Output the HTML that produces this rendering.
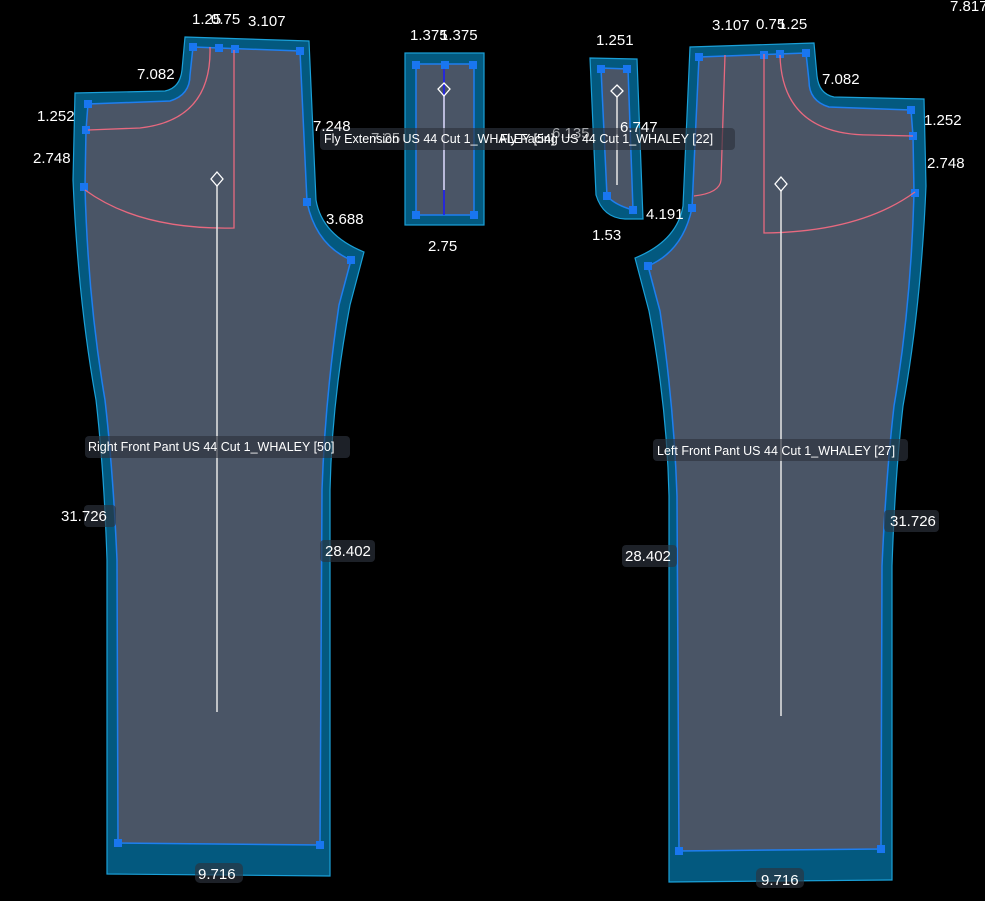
<!DOCTYPE html>
<html><head><meta charset="utf-8"><style>
html,body{margin:0;padding:0;background:#000;}
svg{display:block;}
text{font-family:"Liberation Sans",sans-serif;fill:#fff;}
.d{font-size:15px;}
.n{font-size:12.5px;}
</style></head><body>
<svg width="985" height="901" viewBox="0 0 985 901" xmlns="http://www.w3.org/2000/svg">
<defs>
<g id="pant">
  <path d="M185,37 L309,41 L316,200 Q322,235 364,252 L350,305 Q332,400 330,490 L330,876 L107,874 L107,560 Q104,470 96,400 Q78,300 73,180 L75,93 L165,91 Q180,88 182,70 Z" fill="#03597f" stroke="#1aa0d8" stroke-width="1.2"/>
  <path d="M193,47 L300,51 L307,202 Q316,245 351,260 L339,305 Q325,400 322,490 L320,845 L118,843 L117,560 Q113,470 105,400 Q88,300 85,187 L86,130 L88,104 L170,101 Q190,95 190,75 Z" fill="#4a5566" stroke="#1e7ff0" stroke-width="1.5"/>
  <g fill="#1976f0">
    <rect x="189" y="43" width="8" height="8"/><rect x="215" y="44" width="8" height="8"/><rect x="231" y="45" width="8" height="8"/><rect x="296" y="47" width="8" height="8"/>
    <rect x="84" y="100" width="8" height="8"/><rect x="82" y="126" width="8" height="8"/><rect x="80" y="183" width="8" height="8"/>
    <rect x="303" y="198" width="8" height="8"/><rect x="347" y="256" width="8" height="8"/>
    <rect x="114" y="839" width="8" height="8"/><rect x="316" y="841" width="8" height="8"/>
  </g>
</g>
</defs>
<use href="#pant"/>
<path d="M210,47 Q212,120 140,128 L88,130" fill="none" stroke="#e8697f" stroke-width="1.3"/>
<path d="M234,50 L234,228 Q140,230 85,190" fill="none" stroke="#e8697f" stroke-width="1.3"/>
<line x1="217" y1="186" x2="217" y2="712" stroke="#e6e6e6" stroke-width="1.5"/>
<path d="M217,172 L223,179 L217,186 L211,179 Z" fill="none" stroke="#fff" stroke-width="1.3"/>
<use href="#pant" transform="translate(999,6) scale(-1,1)"/>
<path d="M725,55 L721,180 Q720,193 694,196" fill="none" stroke="#e8697f" stroke-width="1.3"/>
<path d="M780,55 Q782,135 870,135 L913,136" fill="none" stroke="#e8697f" stroke-width="1.3"/>
<path d="M764,54 L764,233 Q860,232 915,192" fill="none" stroke="#e8697f" stroke-width="1.3"/>
<line x1="781" y1="191" x2="781" y2="716" stroke="#e6e6e6" stroke-width="1.5"/>
<path d="M781,177 L787,184 L781,191 L775,184 Z" fill="none" stroke="#fff" stroke-width="1.3"/>
<rect x="405" y="53" width="79" height="172" fill="#03597f" stroke="#1aa0d8" stroke-width="1.2"/>
<rect x="416" y="64" width="58" height="151" fill="#4a5566" stroke="#1e7ff0" stroke-width="1.5"/>
<line x1="444" y1="64" x2="444" y2="215" stroke="#1a1aff" stroke-width="1.5"/>
<line x1="444" y1="96" x2="444" y2="190" stroke="#e6e6e6" stroke-width="1.5"/>
<path d="M444,83 L450,89 L444,96 L438,89 Z" fill="none" stroke="#fff" stroke-width="1.3"/>
<g fill="#1976f0"><rect x="412" y="61" width="8" height="8"/><rect x="441" y="61" width="8" height="8"/><rect x="469" y="61" width="8" height="8"/><rect x="412" y="211" width="8" height="8"/><rect x="470" y="211" width="8" height="8"/></g>
<path d="M590,58 L637,59 L643,219 L625,219 Q603,218 596,195 Z" fill="#03597f" stroke="#1aa0d8" stroke-width="1.2"/>
<path d="M601,68 L628,69 L633,210 Q615,205 607,196 Z" fill="#4a5566" stroke="#1e7ff0" stroke-width="1.5"/>
<line x1="617" y1="97" x2="617" y2="185" stroke="#e6e6e6" stroke-width="1.5"/>
<path d="M617,85 L623,91 L617,97 L611,91 Z" fill="none" stroke="#fff" stroke-width="1.3"/>
<g fill="#1976f0"><rect x="597" y="65" width="8" height="8"/><rect x="623" y="65" width="8" height="8"/><rect x="603" y="192" width="8" height="8"/><rect x="629" y="206" width="8" height="8"/></g>
<g fill="#2c333d" fill-opacity="0.65">
  <rect x="85" y="436" width="265" height="22" rx="4"/>
  <rect x="653" y="439" width="255" height="22" rx="4"/>
  <rect x="320" y="128" width="415" height="22" rx="4"/>
  <rect x="84" y="505" width="32" height="22" rx="4"/>
  <rect x="320" y="540" width="55" height="22" rx="4"/>
  <rect x="622" y="545" width="55" height="22" rx="4"/>
  <rect x="884" y="510" width="55" height="22" rx="4"/>
  <rect x="195" y="863" width="48" height="20" rx="5"/>
  <rect x="756" y="868" width="48" height="20" rx="5"/>
</g>
<g class="d">
<text x="192" y="24">1.25</text><text x="211" y="24">0.75</text><text x="248" y="26">3.107</text>
<text x="137" y="79">7.082</text><text x="37" y="121">1.252</text><text x="33" y="163">2.748</text>
<text x="313" y="131">7.248</text><text x="326" y="224">3.688</text>
<text x="61" y="521">31.726</text><text x="325" y="556">28.402</text><text x="198" y="879">9.716</text>
<text x="410" y="40">1.375</text><text x="440" y="40">1.375</text><text x="428" y="251">2.75</text>
<text x="596" y="45">1.251</text><text x="620" y="132">6.747</text><text x="646" y="219">4.191</text><text x="592" y="240">1.53</text>
<text x="552" y="138" fill-opacity="0.6">6.135</text><text x="371" y="143" fill-opacity="0.6">7.25</text>
<text x="712" y="30">3.107</text><text x="756" y="29">0.75</text><text x="778" y="29">1.25</text>
<text x="822" y="84">7.082</text><text x="924" y="125">1.252</text><text x="927" y="168">2.748</text>
<text x="625" y="561">28.402</text><text x="890" y="526">31.726</text><text x="761" y="885">9.716</text>
<text x="950" y="11">7.817</text>
</g>
<g class="n">
<text x="88" y="451">Right Front Pant US 44 Cut 1_WHALEY [50]</text>
<text x="657" y="455">Left Front Pant US 44 Cut 1_WHALEY [27]</text>
<text x="324" y="143">Fly Extension US 44 Cut 1_WHALEY [54]</text>
<text x="500" y="143">Fly Facing US 44 Cut 1_WHALEY [22]</text>
</g>
</svg>
</body></html>
